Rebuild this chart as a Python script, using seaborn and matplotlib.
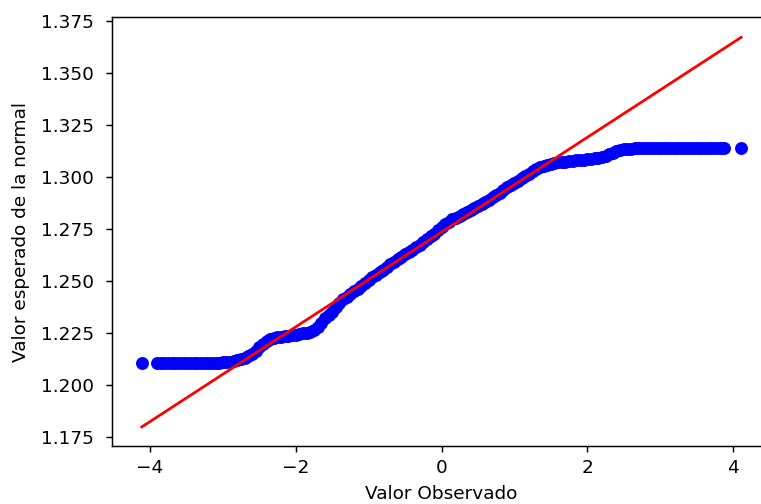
import matplotlib
matplotlib.use("Agg")
import matplotlib.pyplot as plt
import seaborn as sns

# cuantiles teoricos (eje x) y valores ordenados (eje y)
quantiles = [
    -4.11, -3.90, -3.85, -3.80, -3.75, -3.70, -3.65, -3.60, -3.55, -3.50,
    -3.45, -3.40, -3.35, -3.30, -3.25, -3.20, -3.15, -3.10, -3.05, -3.00,
    -2.95, -2.90, -2.85, -2.80, -2.75, -2.70, -2.65, -2.60, -2.55, -2.50,
    -2.45, -2.40, -2.35, -2.30, -2.25, -2.20, -2.15, -2.10, -2.05, -2.00,
    -1.95, -1.90, -1.85, -1.80, -1.75, -1.70, -1.65, -1.60, -1.55, -1.50,
    -1.45, -1.40, -1.35, -1.30, -1.25, -1.20, -1.15, -1.10, -1.05, -1.00,
    -0.95, -0.90, -0.85, -0.80, -0.75, -0.70, -0.65, -0.60, -0.55, -0.50,
    -0.45, -0.40, -0.35, -0.30, -0.25, -0.20, -0.15, -0.10, -0.05, 0.00,
    0.05, 0.10, 0.15, 0.20, 0.25, 0.30, 0.35, 0.40, 0.45, 0.50,
    0.55, 0.60, 0.65, 0.70, 0.75, 0.80, 0.85, 0.90, 0.95, 1.00,
    1.05, 1.10, 1.15, 1.20, 1.25, 1.30, 1.35, 1.40, 1.45, 1.50,
    1.55, 1.60, 1.65, 1.70, 1.75, 1.80, 1.85, 1.90, 1.95, 2.00,
    2.05, 2.10, 2.15, 2.20, 2.25, 2.30, 2.35, 2.40, 2.45, 2.50,
    2.55, 2.60, 2.65, 2.70, 2.75, 2.80, 2.85, 2.90, 2.95, 3.00,
    3.05, 3.10, 3.15, 3.20, 3.25, 3.30, 3.35, 3.40, 3.45, 3.50,
    3.55, 3.60, 3.65, 3.70, 3.75, 3.80, 3.85, 3.88, 4.11,
]
ordered = [
    1.2105, 1.2105, 1.2105, 1.2105, 1.2105, 1.2105, 1.2105, 1.2105, 1.2105, 1.2105,
    1.2105, 1.2105, 1.2105, 1.2105, 1.2105, 1.2105, 1.2105, 1.2106, 1.2107, 1.2108,
    1.2110, 1.2112, 1.2115, 1.2118, 1.2123, 1.2130, 1.2139, 1.2150, 1.2164, 1.2180,
    1.2196, 1.2210, 1.2219, 1.2225, 1.2229, 1.2232, 1.2235, 1.2237, 1.2239, 1.2241,
    1.2244, 1.2248, 1.2251, 1.2256, 1.2265, 1.2280, 1.2299, 1.2320, 1.2336, 1.2352,
    1.2373, 1.2395, 1.2411, 1.2425, 1.2438, 1.2450, 1.2462, 1.2475, 1.2490, 1.2505,
    1.2518, 1.2530, 1.2543, 1.2555, 1.2568, 1.2580, 1.2593, 1.2605, 1.2616, 1.2628,
    1.2639, 1.2650, 1.2662, 1.2675, 1.2687, 1.2700, 1.2714, 1.2728, 1.2743, 1.2758,
    1.2772, 1.2785, 1.2796, 1.2805, 1.2814, 1.2822, 1.2831, 1.2840, 1.2850, 1.2860,
    1.2870, 1.2880, 1.2891, 1.2902, 1.2913, 1.2925, 1.2937, 1.2950, 1.2961, 1.2972,
    1.2983, 1.2993, 1.3004, 1.3015, 1.3028, 1.3040, 1.3048, 1.3055, 1.3060, 1.3065,
    1.3068, 1.3070, 1.3072, 1.3074, 1.3076, 1.3078, 1.3080, 1.3082, 1.3084, 1.3086,
    1.3088, 1.3090, 1.3093, 1.3096, 1.3102, 1.3110, 1.3118, 1.3125, 1.3130, 1.3133,
    1.3135, 1.3137, 1.3138, 1.3138, 1.3138, 1.3139, 1.3139, 1.3139, 1.3139, 1.3140,
    1.3140, 1.3140, 1.3140, 1.3140, 1.3140, 1.3140, 1.3141, 1.3141, 1.3141, 1.3141,
    1.3141, 1.3141, 1.3141, 1.3141, 1.3141, 1.3141, 1.3141, 1.3141, 1.3141,
]

# recta de ajuste (extremos)
fit_x = [-4.11, 4.11]
fit_y = [1.1798, 1.3672]

dpi = 133
fig = plt.figure(figsize=(761 / dpi, 504 / dpi), dpi=dpi)
ax = fig.add_axes([112 / 761, 1 - 446 / 504, 659 / 761, 429 / 504])

sns.scatterplot(x=quantiles, y=ordered, ax=ax, color="blue", s=36,
                edgecolor="blue", linewidth=1)
sns.lineplot(x=fit_x, y=fit_y, ax=ax, color="red", linewidth=1.5)

ax.set_xlim(-4.52, 4.52)
ax.set_ylim(1.1706, 1.3770)
ax.set_xticks([-4, -2, 0, 2, 4])
ax.set_yticks([1.175, 1.200, 1.225, 1.250, 1.275, 1.300, 1.325, 1.350, 1.375])
ax.tick_params(axis="y", pad=6.2)
ax.set_xlabel("Valor Observado", labelpad=4.5)
ax.set_ylabel("Valor esperado de la normal", labelpad=6)

fig.savefig("out.png", dpi=dpi)
